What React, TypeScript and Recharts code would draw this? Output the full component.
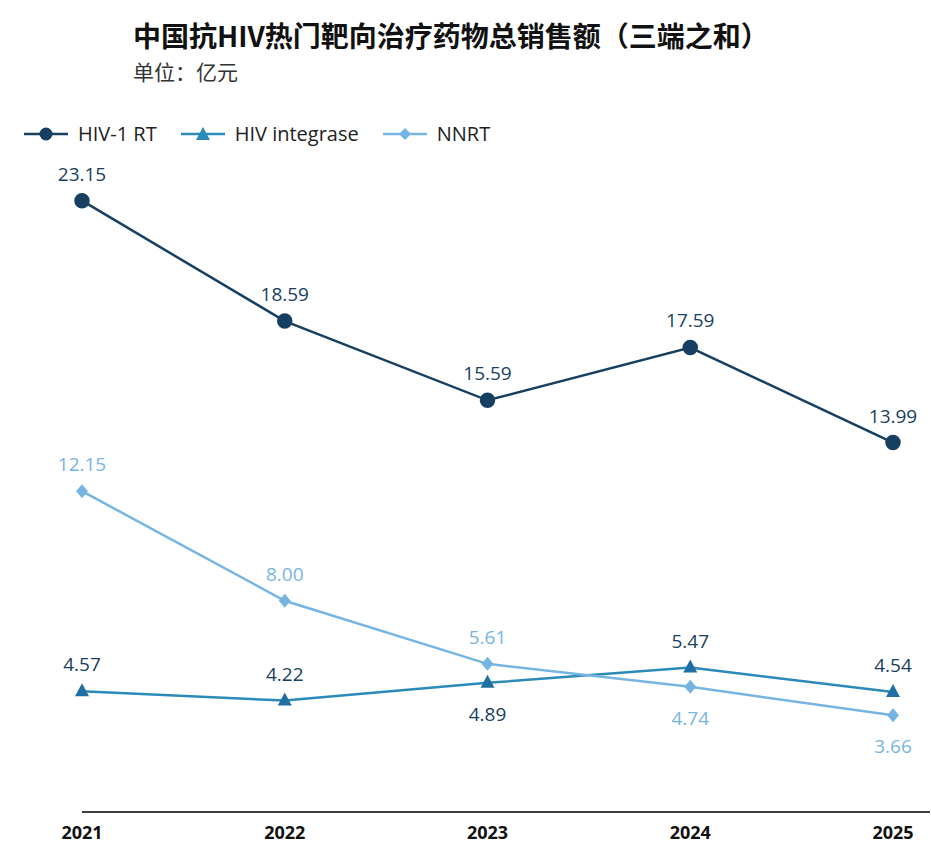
import { LineChart, Line, XAxis, YAxis, LabelList } from 'recharts'

const years = ['2021', '2022', '2023', '2024', '2025']
const rt = [23.15, 18.59, 15.59, 17.59, 13.99]
const integrase = [4.57, 4.22, 4.89, 5.47, 4.54]
const nnrt = [12.15, 8.0, 5.61, 4.74, 3.66]

// label above (true) or below (false) the point
const intAbove = [true, true, false, true, true]
const nnrtAbove = [true, true, true, false, false]

const data = years.map((y, i) => ({ year: y, rt: rt[i], integrase: integrase[i], nnrt: nnrt[i] }))

const makeLabel = (color: string, above: boolean[]) => (props: any) => {
  const { x, y, value, index } = props
  const up = above[index]
  return (
    <text x={x} y={up ? y - 20 : y + 38} fill={color} fontSize={19} textAnchor="middle"
      fontFamily="'Open Sans', 'Noto Sans', sans-serif">
      {Number(value).toFixed(2)}
    </text>
  )
}

const C1 = '#173f61'
const C2 = '#2b8ab8'
const C3 = '#76b5e2'

function LegendItem({ color, label, shape, mr }: { color: string; label: string; shape: string; mr: number }) {
  return (
    <div style={{ display: 'flex', alignItems: 'center', marginRight: mr }}>
      <svg width={48} height={20}>
        <line x1={2} y1={10} x2={46} y2={10} stroke={color} strokeWidth={2.5} />
        {shape === 'circle' && <circle cx={24} cy={10} r={6.5} fill={color} />}
        {shape === 'triangle' && <polygon points="24,3 31,16 17,16" fill={color} />}
        {shape === 'diamond' && <polygon points="24,4 30,10 24,16 18,10" fill={color} />}
      </svg>
      <span style={{ fontSize: 20, color: '#222', marginLeft: 8 }}>{label}</span>
    </div>
  )
}

export default function App() {
  return (
    <div style={{ position: 'absolute', left: 0, top: 0, width: 931, height: 856, background: '#fff', fontFamily: "'Open Sans', 'Noto Sans CJK SC', sans-serif" }}>
      <div style={{ position: 'absolute', top: 15, left: 133, whiteSpace: 'nowrap', fontSize: 28, fontWeight: 'bold', fontFamily: "'Noto Sans CJK SC', sans-serif", color: '#111' }}>
        中国抗HIV热门靶向治疗药物总销售额（三端之和）
      </div>
      <div style={{ position: 'absolute', top: 56, left: 133, fontSize: 21, fontFamily: "'Noto Sans CJK SC', sans-serif", color: '#333' }}>
        单位：亿元
      </div>
      <div style={{ position: 'absolute', top: 120, left: 22, display: 'flex', fontFamily: "'Open Sans', sans-serif" }}>
        <LegendItem color={C1} label="HIV-1 RT" shape="circle" mr={22} />
        <LegendItem color={C2} label="HIV integrase" shape="triangle" mr={22} />
        <LegendItem color={C3} label="NNRT" shape="diamond" mr={0} />
      </div>
      <div style={{ position: 'absolute', left: 0, top: 0 }}>
        <LineChart width={931} height={856} data={data} margin={{ top: 99, right: 1, bottom: 0, left: 82 }}>
          <XAxis dataKey="year" height={44} padding={{ left: 0, right: 37 }} tickLine={false}
            axisLine={{ stroke: '#000', strokeWidth: 1.5 }}
            tick={{ fill: '#111', fontSize: 18, fontWeight: 'bold' }} tickMargin={8} />
          <YAxis hide domain={[0, 27]} />
          <Line dataKey="rt" stroke={C1} strokeWidth={2.5} isAnimationActive={false}
            dot={{ r: 6.5, fill: C1, stroke: C1 }}>
            <LabelList dataKey="rt" content={makeLabel(C1, [true, true, true, true, true])} />
          </Line>
          <Line dataKey="integrase" stroke={C2} strokeWidth={2.5} isAnimationActive={false}
            dot={(p: any) => <polygon key={p.index} points={`${p.cx},${p.cy - 8} ${p.cx + 7},${p.cy + 5} ${p.cx - 7},${p.cy + 5}`} fill="#1f6fa3" />}>
            <LabelList dataKey="integrase" content={makeLabel(C1, intAbove)} />
          </Line>
          <Line dataKey="nnrt" stroke={C3} strokeWidth={2.5} isAnimationActive={false}
            dot={(p: any) => <polygon key={p.index} points={`${p.cx},${p.cy - 7} ${p.cx + 6},${p.cy} ${p.cx},${p.cy + 7} ${p.cx - 6},${p.cy}`} fill={C3} />}>
            <LabelList dataKey="nnrt" content={makeLabel(C3, nnrtAbove)} />
          </Line>
        </LineChart>
      </div>
    </div>
  )
}
